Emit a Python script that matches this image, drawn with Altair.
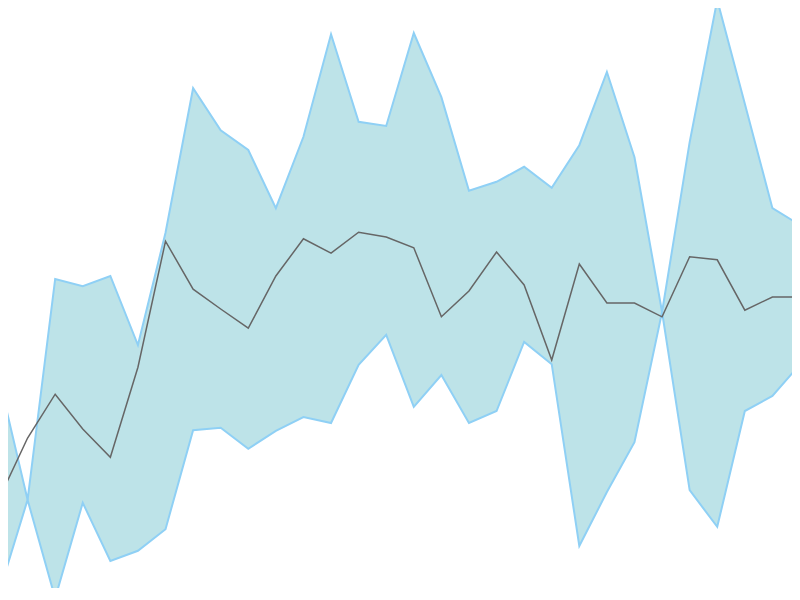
import altair as alt
import pandas as pd

idx = list(range(30))
upper = [36.3, 16.7, 53.5, 52.3, 54.0, 42.5, 61.2, 85.3, 78.3, 75.0,
         65.3, 77.2, 94.3, 79.7, 79.0, 94.5, 83.8, 68.2, 69.7, 72.2,
         68.7, 75.8, 88.0, 73.8, 48.0, 76.3, 100.0, 82.7, 65.3, 62.5]
lower = [1.7, 16.7, 0.3, 16.2, 6.5, 8.2, 11.8, 28.3, 28.7, 25.2,
         28.2, 30.5, 29.5, 39.2, 44.2, 32.2, 37.5, 29.5, 31.5, 43.0,
         39.3, 9.0, 18.0, 26.3, 48.0, 18.3, 12.2, 31.5, 34.0, 39.3]
mid = [17.2, 27.0, 34.3, 28.5, 23.8, 38.8, 59.8, 51.8, 48.5, 45.3,
       54.0, 60.2, 57.8, 61.3, 60.5, 58.7, 47.2, 51.5, 58.0, 52.5,
       40.0, 56.0, 49.5, 49.5, 47.2, 57.2, 56.7, 48.3, 50.5, 50.5]

df = pd.DataFrame({"i": idx, "upper": upper, "lower": lower, "mid": mid})

W, H = 784, 580
xs = alt.Scale(domain=[0, 29], range=[-8, 792], nice=False, zero=False)
ys = alt.Scale(domain=[0, 100], range=[592, -8], nice=False, zero=False)
X = alt.X("i:Q", scale=xs, axis=None)

base = alt.Chart(df)
band = base.mark_area(color="#bde3e8", opacity=1).encode(
    x=X, y=alt.Y("lower:Q", scale=ys, axis=None), y2="upper:Q")
up_line = base.mark_line(color="#8fd0f5", strokeWidth=2).encode(
    x=X, y=alt.Y("upper:Q", scale=ys, axis=None))
lo_line = base.mark_line(color="#8fd0f5", strokeWidth=2).encode(
    x=X, y=alt.Y("lower:Q", scale=ys, axis=None))
mid_line = base.mark_line(color="#666666", strokeWidth=1.5).encode(
    x=X, y=alt.Y("mid:Q", scale=ys, axis=None))

chart = alt.layer(band, up_line, lo_line, mid_line).properties(
    width=W, height=H,
    padding=0,
    autosize=alt.AutoSizeParams(type="none"),
).configure_view(stroke=None)

chart.save("out.html", embed_options={"renderer": "svg", "actions": False})
